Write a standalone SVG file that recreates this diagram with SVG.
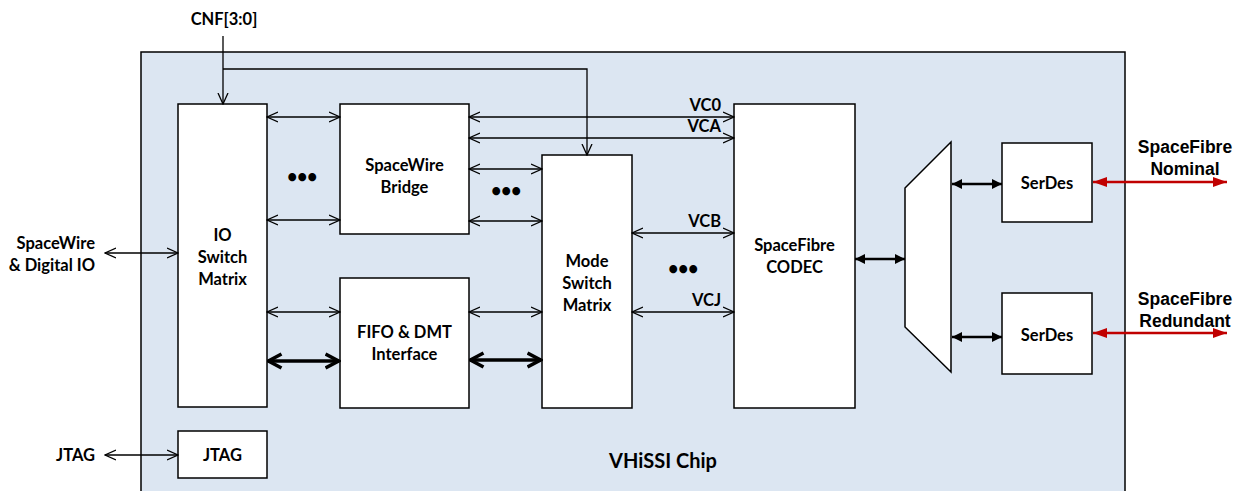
<svg xmlns="http://www.w3.org/2000/svg" width="1240" height="491" viewBox="0 0 1240 491">
<defs>
<style>
.box{fill:#fff;stroke:#000;stroke-width:1.5}
.t{font-family:Lato,"Liberation Sans",sans-serif;font-weight:bold;font-size:16.5px;fill:#000}
.big{font-size:20px}
.dots{font-size:18px;letter-spacing:-0.5px}
.a{font-family:"Liberation Sans",Arial,sans-serif;font-weight:bold;font-size:17.5px;fill:#000}
.thin{stroke:#000;stroke-width:1.3;fill:none;marker-start:url(#ov);marker-end:url(#ov)}
.one{stroke:#000;stroke-width:1.3;fill:none;marker-end:url(#ov)}
.thick{stroke:#000;stroke-width:3.5;fill:none;marker-start:url(#tv);marker-end:url(#tv)}
.fat{stroke:#000;stroke-width:2.5;fill:none;marker-start:url(#ft);marker-end:url(#ft)}
.red{stroke:#c00000;stroke-width:2.5;fill:none;marker-start:url(#rt);marker-end:url(#rt)}
</style>
<marker id="ov" viewBox="0 0 12 12" refX="11" refY="6" markerWidth="12" markerHeight="12" markerUnits="userSpaceOnUse" orient="auto-start-reverse">
<path d="M0,1 L11,6 L0,11" fill="none" stroke="#000" stroke-width="1.3"/>
</marker>
<marker id="tv" viewBox="0 0 16 18" refX="14.5" refY="9" markerWidth="16" markerHeight="18" markerUnits="userSpaceOnUse" orient="auto-start-reverse">
<path d="M1,2 L14,9 L1,16" fill="none" stroke="#000" stroke-width="3.5" stroke-linejoin="miter"/>
</marker>
<marker id="ft" viewBox="0 0 10 10" refX="10" refY="5" markerWidth="10" markerHeight="10" markerUnits="userSpaceOnUse" orient="auto-start-reverse">
<path d="M0,0 L10,5 L0,10 Z" fill="#000"/>
</marker>
<marker id="rt" viewBox="0 0 14 10" refX="14" refY="5" markerWidth="14" markerHeight="10" markerUnits="userSpaceOnUse" orient="auto-start-reverse">
<path d="M0,0 L14,5 L0,10 Z" fill="#c00000"/>
</marker>
</defs>
<rect width="1240" height="491" fill="#fff"/>
<g id="chip">
<rect x="141" y="52" width="984" height="460" fill="#dce6f2" stroke="#000" stroke-width="1.5"/>
<text class="t big" x="663" y="468" text-anchor="middle">VHiSSI Chip</text>
</g>
<g id="io-switch">
<rect class="box" x="178" y="104" width="89" height="303"/>
<text class="t" x="222.5" y="241" text-anchor="middle">IO</text>
<text class="t" x="222.5" y="263" text-anchor="middle">Switch</text>
<text class="t" x="222.5" y="285" text-anchor="middle">Matrix</text>
</g>
<g id="jtag">
<rect class="box" x="178" y="431" width="89" height="47"/>
<text class="t" x="222.5" y="461" text-anchor="middle">JTAG</text>
</g>
<g id="spw-bridge">
<rect class="box" x="340" y="104" width="129" height="130"/>
<text class="t" x="404.5" y="171" text-anchor="middle">SpaceWire</text>
<text class="t" x="404.5" y="193" text-anchor="middle">Bridge</text>
</g>
<g id="fifo">
<rect class="box" x="340" y="278" width="129" height="130"/>
<text class="t" x="404.5" y="338" text-anchor="middle">FIFO &amp; DMT</text>
<text class="t" x="404.5" y="360" text-anchor="middle">Interface</text>
</g>
<g id="mode-switch">
<rect class="box" x="542" y="155" width="90" height="253"/>
<text class="t" x="587" y="267" text-anchor="middle">Mode</text>
<text class="t" x="587" y="289" text-anchor="middle">Switch</text>
<text class="t" x="587" y="311" text-anchor="middle">Matrix</text>
</g>
<g id="codec">
<rect class="box" x="734" y="104" width="121" height="304"/>
<text class="t" x="794.5" y="251" text-anchor="middle">SpaceFibre</text>
<text class="t" x="794.5" y="273" text-anchor="middle">CODEC</text>
</g>
<g id="mux">
<polygon points="905,188 951,142 951,372 905,327" fill="#fff" stroke="#000" stroke-width="1.5"/>
</g>
<g id="serdes-nominal">
<rect class="box" x="1002" y="143" width="90" height="79"/>
<text class="t" x="1047" y="189" text-anchor="middle">SerDes</text>
</g>
<g id="serdes-redundant">
<rect class="box" x="1002" y="293" width="90" height="81"/>
<text class="t" x="1047" y="341" text-anchor="middle">SerDes</text>
</g>
<g id="labels">
<text class="t" x="224" y="25" text-anchor="middle">CNF[3:0]</text>
<text class="t" x="95" y="249" text-anchor="end">SpaceWire</text>
<text class="t" x="95" y="271" text-anchor="end">&amp; Digital IO</text>
<text class="t" x="95" y="461" text-anchor="end">JTAG</text>
<text class="a" x="1185" y="153" text-anchor="middle">SpaceFibre</text>
<text class="a" x="1185" y="175" text-anchor="middle">Nominal</text>
<text class="a" x="1185" y="305" text-anchor="middle">SpaceFibre</text>
<text class="a" x="1185" y="327" text-anchor="middle">Redundant</text>
<text class="t" x="721" y="111" text-anchor="end">VC0</text>
<text class="t" x="721" y="132" text-anchor="end">VCA</text>
<text class="t" x="721" y="227" text-anchor="end">VCB</text>
<text class="t" x="721" y="306" text-anchor="end">VCJ</text>
<text class="t dots" x="302" y="183" text-anchor="middle">•••</text>
<text class="t dots" x="506" y="197" text-anchor="middle">•••</text>
<text class="t dots" x="683" y="275" text-anchor="middle">•••</text>
</g>
<g id="connectors">
<polyline class="one" points="223,36 223,104"/>
<polyline class="one" points="223,69 587,69 587,155"/>
<line class="thin" x1="105" y1="253" x2="178" y2="253"/>
<line class="thin" x1="105" y1="455" x2="178" y2="455"/>
<line class="thin" x1="267" y1="117" x2="340" y2="117"/>
<line class="thin" x1="267" y1="220" x2="340" y2="220"/>
<line class="thin" x1="267" y1="312" x2="340" y2="312"/>
<line class="thick" x1="268" y1="361" x2="339" y2="361"/>
<line class="thin" x1="469" y1="117" x2="734" y2="117"/>
<line class="thin" x1="469" y1="138" x2="734" y2="138"/>
<line class="thin" x1="469" y1="169" x2="542" y2="169"/>
<line class="thin" x1="469" y1="221" x2="542" y2="221"/>
<line class="thin" x1="469" y1="312" x2="542" y2="312"/>
<line class="thick" x1="470" y1="360" x2="541" y2="360"/>
<line class="thin" x1="632" y1="233" x2="734" y2="233"/>
<line class="thin" x1="632" y1="312" x2="734" y2="312"/>
<line class="fat" x1="855" y1="259" x2="905" y2="259"/>
<line class="fat" x1="952" y1="184" x2="1002" y2="184"/>
<line class="fat" x1="952" y1="337" x2="1002" y2="337"/>
<line class="red" x1="1093" y1="182" x2="1227" y2="182"/>
<line class="red" x1="1093" y1="333" x2="1227" y2="333"/>
</g>
</svg>
